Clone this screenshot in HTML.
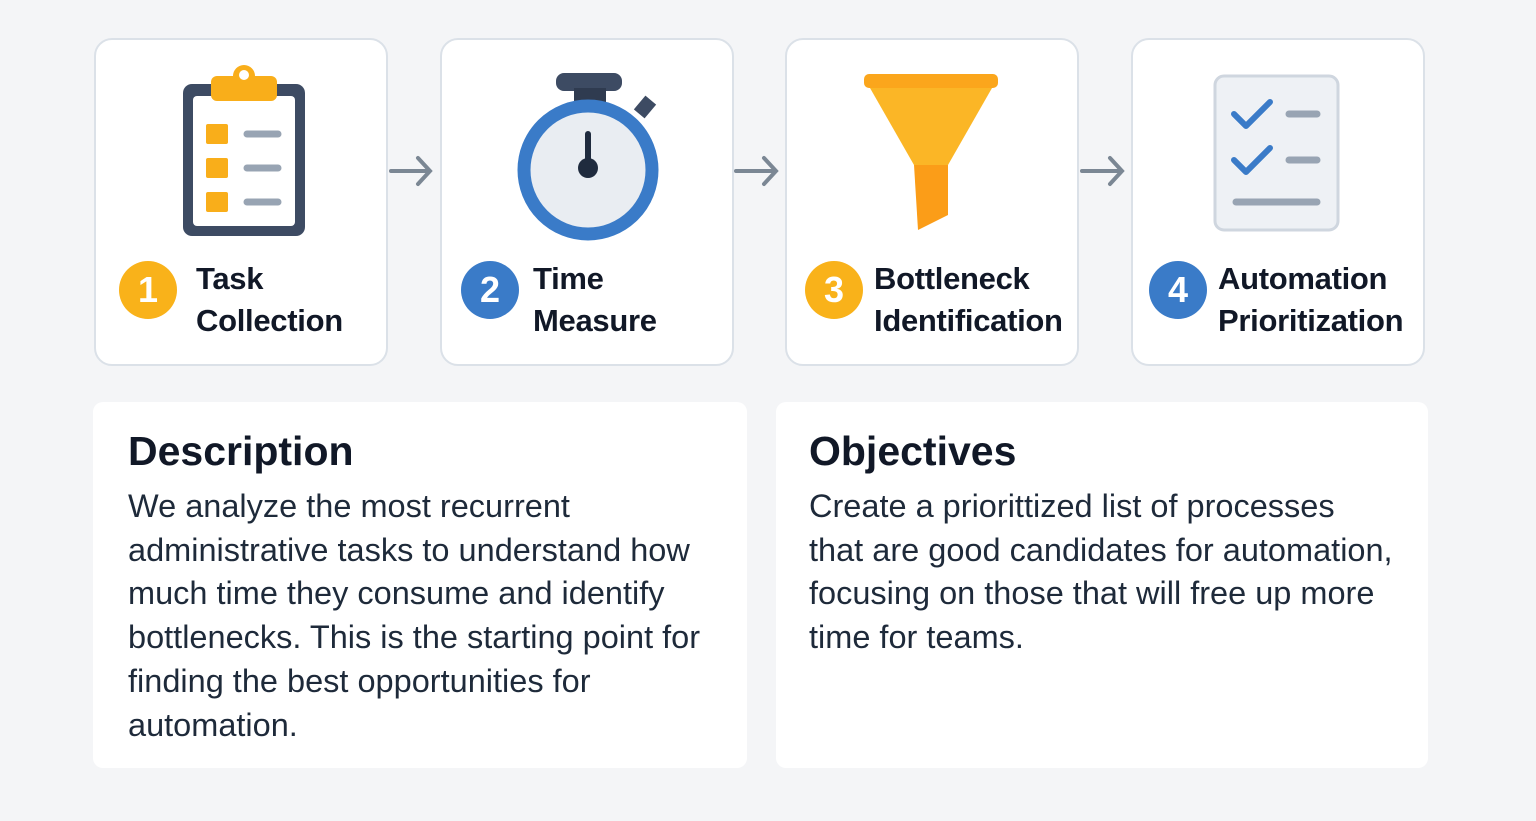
<!DOCTYPE html>
<html><head><style>
body{margin:0;width:1536px;height:821px;background:#f4f5f7;font-family:"Liberation Sans",sans-serif;position:relative;overflow:hidden}
.card{position:absolute;top:38px;width:290px;height:324px;background:#fff;border:2px solid #dbe1e8;border-radius:18px}
.num{position:absolute;top:261px;width:58px;height:58px;border-radius:50%;color:#fff;font-weight:bold;font-size:36px;text-align:center;line-height:58px}
.lab{position:absolute;top:258px;font-weight:bold;font-size:31px;line-height:42px;color:#111827;letter-spacing:-0.3px}
.panel{position:absolute;top:402px;height:366px;background:#fff;border-radius:10px}
.panel h2{position:absolute;left:35px;top:26px;margin:0;font-size:41px;color:#111827}
.panel p{position:absolute;left:35px;margin:0;font-size:32.5px;line-height:43.7px;color:#1e2a3a;white-space:nowrap}
svg{position:absolute}
</style></head><body>
<div class="card" style="left:94px"></div>
<div class="card" style="left:440px"></div>
<div class="card" style="left:785px"></div>
<div class="card" style="left:1131px"></div>

<svg width="1536" height="821" style="left:0;top:0">
<g stroke="#7b8794" stroke-width="4" fill="none" stroke-linecap="round">
<path d="M391 171H429M418 158L430 171L418 184"/>
<path d="M736 171H775M764 158L776 171L764 184"/>
<path d="M1082 171H1121M1110 158L1122 171L1110 184"/>
</g>
<rect x="183" y="84" width="122" height="152" rx="9" fill="#3d4b63"/>
<rect x="193" y="96" width="102" height="130" rx="4" fill="#fff"/>
<rect x="211" y="76" width="66" height="25" rx="6" fill="#f9ae1a"/>
<circle cx="244" cy="76" r="11" fill="#f9ae1a"/><circle cx="244" cy="75" r="5" fill="#fff"/>
<g fill="#f9ae1a"><rect x="206" y="124" width="22" height="20" rx="2"/><rect x="206" y="158" width="22" height="20" rx="2"/><rect x="206" y="192" width="22" height="20" rx="2"/></g>
<g stroke="#98a4b3" stroke-width="7" stroke-linecap="round"><path d="M247 134H278M247 168H278M247 202H278"/></g>
<rect x="556" y="73" width="66" height="18" rx="8" fill="#3d4b63"/>
<rect x="574" y="88" width="32" height="14" fill="#2f3b50"/>
<rect x="638" y="98" width="14" height="18" fill="#3d4b63" transform="rotate(40 645 107)"/>
<circle cx="588" cy="170" r="64" fill="#e9edf2" stroke="#3a7bc8" stroke-width="13"/>
<path d="M588 134V164" stroke="#1f2b3e" stroke-width="6" stroke-linecap="round"/>
<circle cx="588" cy="168" r="10" fill="#1f2b3e"/>
<rect x="864" y="74" width="134" height="14" rx="5" fill="#fba61c"/>
<path d="M870 88H992L948 165H914Z" fill="#fbb626"/>
<path d="M914 165H948V215L918 230Z" fill="#fb9d18"/>
<rect x="1215" y="76" width="123" height="154" rx="9" fill="#eef1f5" stroke="#cfd6df" stroke-width="3"/>
<g stroke="#3a7bc8" stroke-width="6" fill="none" stroke-linecap="round" stroke-linejoin="round"><path d="M1234 114L1246 126L1270 102"/><path d="M1234 160L1246 172L1270 148"/></g>
<g stroke="#98a4b3" stroke-width="7" stroke-linecap="round"><path d="M1289 114H1317M1289 160H1317M1236 202H1317"/></g>
</svg>

<div class="num" style="left:119px;background:#f9b21a">1</div>
<div class="lab" style="left:196px">Task<br>Collection</div>
<div class="num" style="left:461px;background:#3a7bc8">2</div>
<div class="lab" style="left:533px">Time<br>Measure</div>
<div class="num" style="left:805px;background:#f9b21a">3</div>
<div class="lab" style="left:874px">Bottleneck<br>Identification</div>
<div class="num" style="left:1149px;background:#3a7bc8">4</div>
<div class="lab" style="left:1218px">Automation<br>Prioritization</div>

<div class="panel" style="left:93px;width:654px"><h2>Description</h2>
<p style="top:83px">We analyze the most recurrent<br>administrative tasks to understand how<br>much time they consume and identify<br>bottlenecks. This is the starting point for<br>finding the best opportunities for<br>automation.</p></div>
<div class="panel" style="left:776px;width:652px"><h2 style="left:33px">Objectives</h2>
<p style="top:83px;left:33px">Create a priorittized list of processes<br>that are good candidates for automation,<br>focusing on those that will free up more<br>time for teams.</p></div>
</body></html>
